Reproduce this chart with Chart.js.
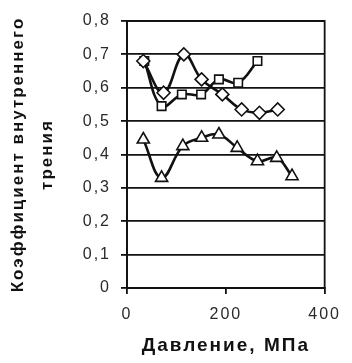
<!DOCTYPE html>
<html>
<head>
<meta charset="utf-8">
<script src="https://cdn.jsdelivr.net/npm/chart.js@4.4.0/dist/chart.umd.min.js"></script>
<style>
  html, body { margin: 0; padding: 0; background: #fff; }
  #wrap { width: 352px; height: 363px; }
</style>
</head>
<body>
<div id="wrap"><canvas id="myChart" width="352" height="363"></canvas></div>
<script>
// Коэффициент внутреннего трения vs давление
const diamondP = [33, 74, 115, 151, 193, 232, 268, 305];
const diamondK = [0.68, 0.585, 0.70, 0.625, 0.58, 0.535, 0.525, 0.535];

const squareP = [35, 70, 111, 150, 186, 225, 264];
const squareK = [0.68, 0.545, 0.58, 0.58, 0.625, 0.615, 0.68];

const triangleP = [33, 70, 113, 151, 186, 223, 264, 303, 334];
const triangleK = [0.445, 0.33, 0.425, 0.45, 0.46, 0.42, 0.38, 0.39, 0.335];

const xTicks = [0, 200, 400];
const yTitle = ['Коэффициент внутреннего', 'трения'];
const xTitle = 'Давление, МПа';

function pts(xs, ys) {
    return xs.map((x, i) => ({ x: x, y: ys[i] }));
}

// scan-like wide lettering
const spacing = {
    id: 'spacing',
    beforeUpdate(chart) { chart.ctx.letterSpacing = '2px'; },
    beforeDraw(chart) { chart.ctx.letterSpacing = '2px'; }
};

const frame = {
    id: 'frame',
    afterDatasetsDraw(chart) {
        const a = chart.chartArea;
        const c = chart.ctx;
        c.save();
        c.strokeStyle = '#111';
        c.lineWidth = 1.8;
        c.strokeRect(a.left, a.top, a.right - a.left, a.bottom - a.top);
        c.restore();
    }
};

const ctx = document.getElementById('myChart');

const base = {
    borderColor: '#111',
    borderWidth: 2.6,
    pointBackgroundColor: '#fff',
    pointBorderColor: '#111',
    pointBorderWidth: 1.6,
    tension: 0.4,
    fill: false
};

new Chart(ctx, {
    type: 'line',
    data: {
        datasets: [
            Object.assign({}, base, { label: 'ромбы', data: pts(diamondP, diamondK), pointStyle: 'rectRot', pointRadius: 6.5 }),
            Object.assign({}, base, { label: 'квадраты', data: pts(squareP, squareK), pointStyle: 'rect', pointRadius: 6 }),
            Object.assign({}, base, { label: 'треугольники', data: pts(triangleP, triangleK), pointStyle: 'triangle', pointRadius: 7 })
        ]
    },
    options: {
        responsive: false,
        animation: false,
        layout: { padding: { left: 4, right: 19, top: 21, bottom: 6 } },
        plugins: { legend: { display: false }, tooltip: { enabled: false } },
        scales: {
            x: {
                type: 'linear',
                min: 0, max: 400,
                afterBuildTicks(s) { s.ticks = xTicks.map(v => ({ value: v })); },
                afterFit(s) { s.height = 363 - 288 - 6; },
                grid: { drawOnChartArea: false, color: '#111', lineWidth: 1.8, tickLength: 6 },
                border: { color: '#111', width: 1.8 },
                ticks: { color: '#2a2a2a', font: { family: 'Liberation Sans', size: 16 }, padding: 11, maxRotation: 0 },
                title: { display: true, text: xTitle, color: '#111', font: { family: 'Liberation Sans', size: 19, weight: 'bold' }, padding: { top: 4, bottom: 0 } }
            },
            y: {
                min: 0, max: 0.8,
                ticks: {
                    stepSize: 0.1,
                    color: '#2a2a2a',
                    font: { family: 'Liberation Sans', size: 16 },
                    padding: 10,
                    callback: v => (Math.round(v * 10) / 10).toString().replace('.', ',')
                },
                afterFit(s) { s.width = 127 - 4; },
                grid: { color: '#111', lineWidth: 1.8, tickLength: 6 },
                border: { color: '#111', width: 1.8 },
                title: { display: true, text: yTitle, color: '#111', font: { family: 'Liberation Sans', size: 17, weight: 'bold', lineHeight: 1.7 }, padding: { top: 0, bottom: 0 } }
            }
        }
    },
    plugins: [spacing, frame]
});
</script>
</body>
</html>
